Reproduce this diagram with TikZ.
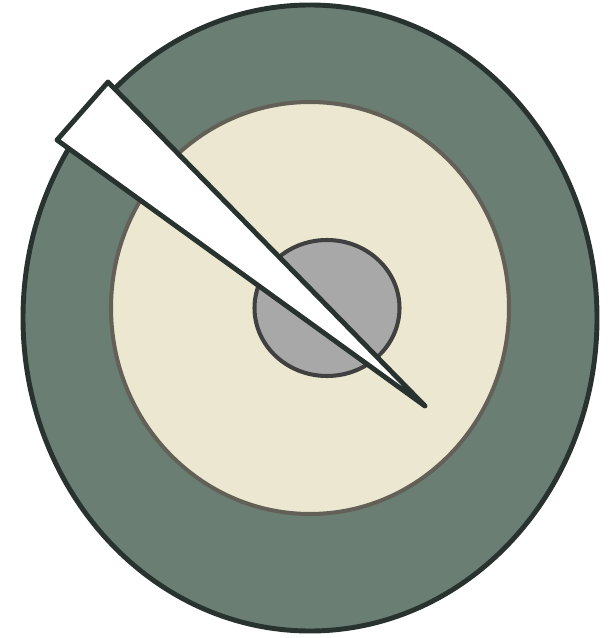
\documentclass[tikz,border=0pt]{standalone}
\definecolor{rimgreen}{HTML}{6A7E74}
\definecolor{rimline}{HTML}{28332F}
\definecolor{corecream}{HTML}{EBE7D0}
\definecolor{coreline}{HTML}{636157}
\definecolor{hubgray}{HTML}{A8A8A8}
\definecolor{hubline}{HTML}{404040}
\begin{document}
\begin{tikzpicture}[x=0.02cm, y=-0.02cm, line join=round]
    \useasboundingbox (0,0) rectangle (613,638);

    % outer ring
    \draw[line width=2.8pt, rimline, fill=rimgreen]
        (310,318) ellipse [x radius=287, y radius=313];

    % cream disc
    \draw[line width=2.3pt, coreline, fill=corecream]
        (310,308) ellipse [x radius=199, y radius=206];

    % gray hub
    \draw[line width=2.3pt, hubline, fill=hubgray]
        (327,308) ellipse [x radius=72.5, y radius=68];

    % white wedge
    \draw[line width=2.8pt, rimline, fill=white]
        (108,82) -- (57,140) -- (425,406) -- cycle;
\end{tikzpicture}
\end{document}
